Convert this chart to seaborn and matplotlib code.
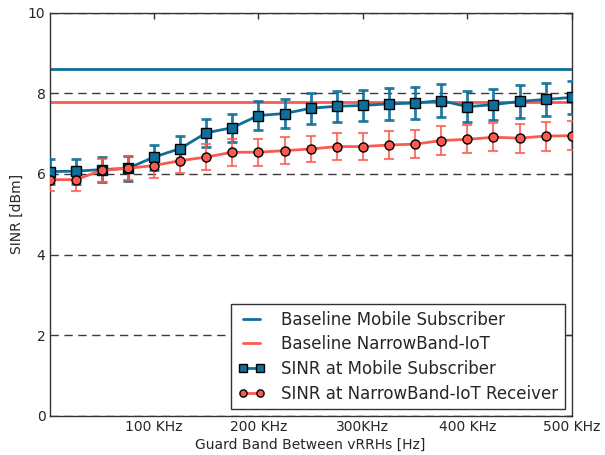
import numpy as np
import pandas as pd
import seaborn as sns
import matplotlib.pyplot as plt
from matplotlib.ticker import FixedLocator

guard_khz = [0, 25, 50, 75, 100, 125, 150, 175, 200, 225, 250,
             275, 300, 325, 350, 375, 400, 425, 450, 475, 500]
sinr_mobile = [6.06, 6.07, 6.11, 6.14, 6.42, 6.63, 7.02, 7.15, 7.45, 7.50, 7.63,
               7.68, 7.70, 7.74, 7.76, 7.82, 7.67, 7.72, 7.80, 7.85, 7.90]
err_mobile = [0.30, 0.31, 0.31, 0.31, 0.31, 0.32, 0.34, 0.35, 0.36, 0.37, 0.38,
              0.38, 0.39, 0.39, 0.39, 0.40, 0.38, 0.39, 0.40, 0.40, 0.40]
sinr_nbiot = [5.86, 5.86, 6.09, 6.14, 6.21, 6.33, 6.42, 6.54, 6.54, 6.58, 6.62,
              6.68, 6.68, 6.72, 6.74, 6.83, 6.86, 6.91, 6.89, 6.94, 6.95]
err_nbiot = [0.28, 0.28, 0.29, 0.30, 0.30, 0.31, 0.32, 0.33, 0.33, 0.34, 0.33,
             0.34, 0.34, 0.34, 0.35, 0.35, 0.35, 0.35, 0.36, 0.36, 0.36]
baseline_mobile = 8.60
baseline_nbiot = 7.78
xtick_vals = [100, 200, 300, 400, 500]
xtick_labels = ["100 KHz", "200 KHz", "300KHz", "400 KHz", "500 KHz"]

blue = "#0f6e9a"
red = "#fa5a50"

df = pd.DataFrame({"guard": guard_khz, "mobile": sinr_mobile, "nbiot": sinr_nbiot})

sns.set_style("white")
plt.rcParams["font.family"] = ["DejaVu Sans"]

fig, ax = plt.subplots(figsize=(6.05, 4.55), dpi=100)

ax.axhline(baseline_mobile, color=blue, lw=2, label="Baseline Mobile Subscriber")
ax.axhline(baseline_nbiot, color=red, lw=2, label="Baseline NarrowBand-IoT")

ax.errorbar(guard_khz, sinr_mobile, yerr=err_mobile, fmt="none", ecolor=blue,
            elinewidth=2, capsize=3.5, capthick=2, alpha=0.9, zorder=3)
ax.errorbar(guard_khz, sinr_nbiot, yerr=err_nbiot, fmt="none", ecolor=red,
            elinewidth=1.5, capsize=3.5, capthick=1.5, alpha=0.8, zorder=3)

sns.lineplot(data=df, x="guard", y="mobile", ax=ax, color=blue, lw=2,
             marker="s", markersize=6.5, markeredgecolor="black", markeredgewidth=1,
             label="SINR at Mobile Subscriber", zorder=4)
sns.lineplot(data=df, x="guard", y="nbiot", ax=ax, color=red, lw=2,
             marker="o", markersize=6.5, markeredgecolor="black", markeredgewidth=1,
             label="SINR at NarrowBand-IoT Receiver", zorder=4)

ax.set_xlim(0, 500)
ax.set_ylim(0, 10)
ax.set_yticks([0, 2, 4, 6, 8, 10])
ax.xaxis.set_major_locator(FixedLocator(xtick_vals))
ax.set_xticklabels(xtick_labels)
ax.yaxis.grid(True, linestyle=(0, (6, 4)), color="#3a3a3a", lw=1)
ax.set_xlabel("Guard Band Between vRRHs [Hz]", fontsize=10, labelpad=3)
ax.set_ylabel("SINR [dBm]", fontsize=10, labelpad=3)
ax.tick_params(direction="in", length=4, width=1, top=True, right=True,
               labelsize=10, color="#333333", pad=3)
for s in ax.spines.values():
    s.set_color("#333333")
    s.set_linewidth(1)

leg = ax.legend(loc="lower right", fontsize=12, numpoints=2, fancybox=False,
                framealpha=1, edgecolor="#333333", borderaxespad=0.4,
                handlelength=1.6, handletextpad=1.0, markerscale=0.8,
                labelspacing=0.4)
leg.get_frame().set_linewidth(1)

fig.subplots_adjust(left=0.082, right=0.945, top=0.972, bottom=0.086)
fig.savefig("out.png", dpi=100)
